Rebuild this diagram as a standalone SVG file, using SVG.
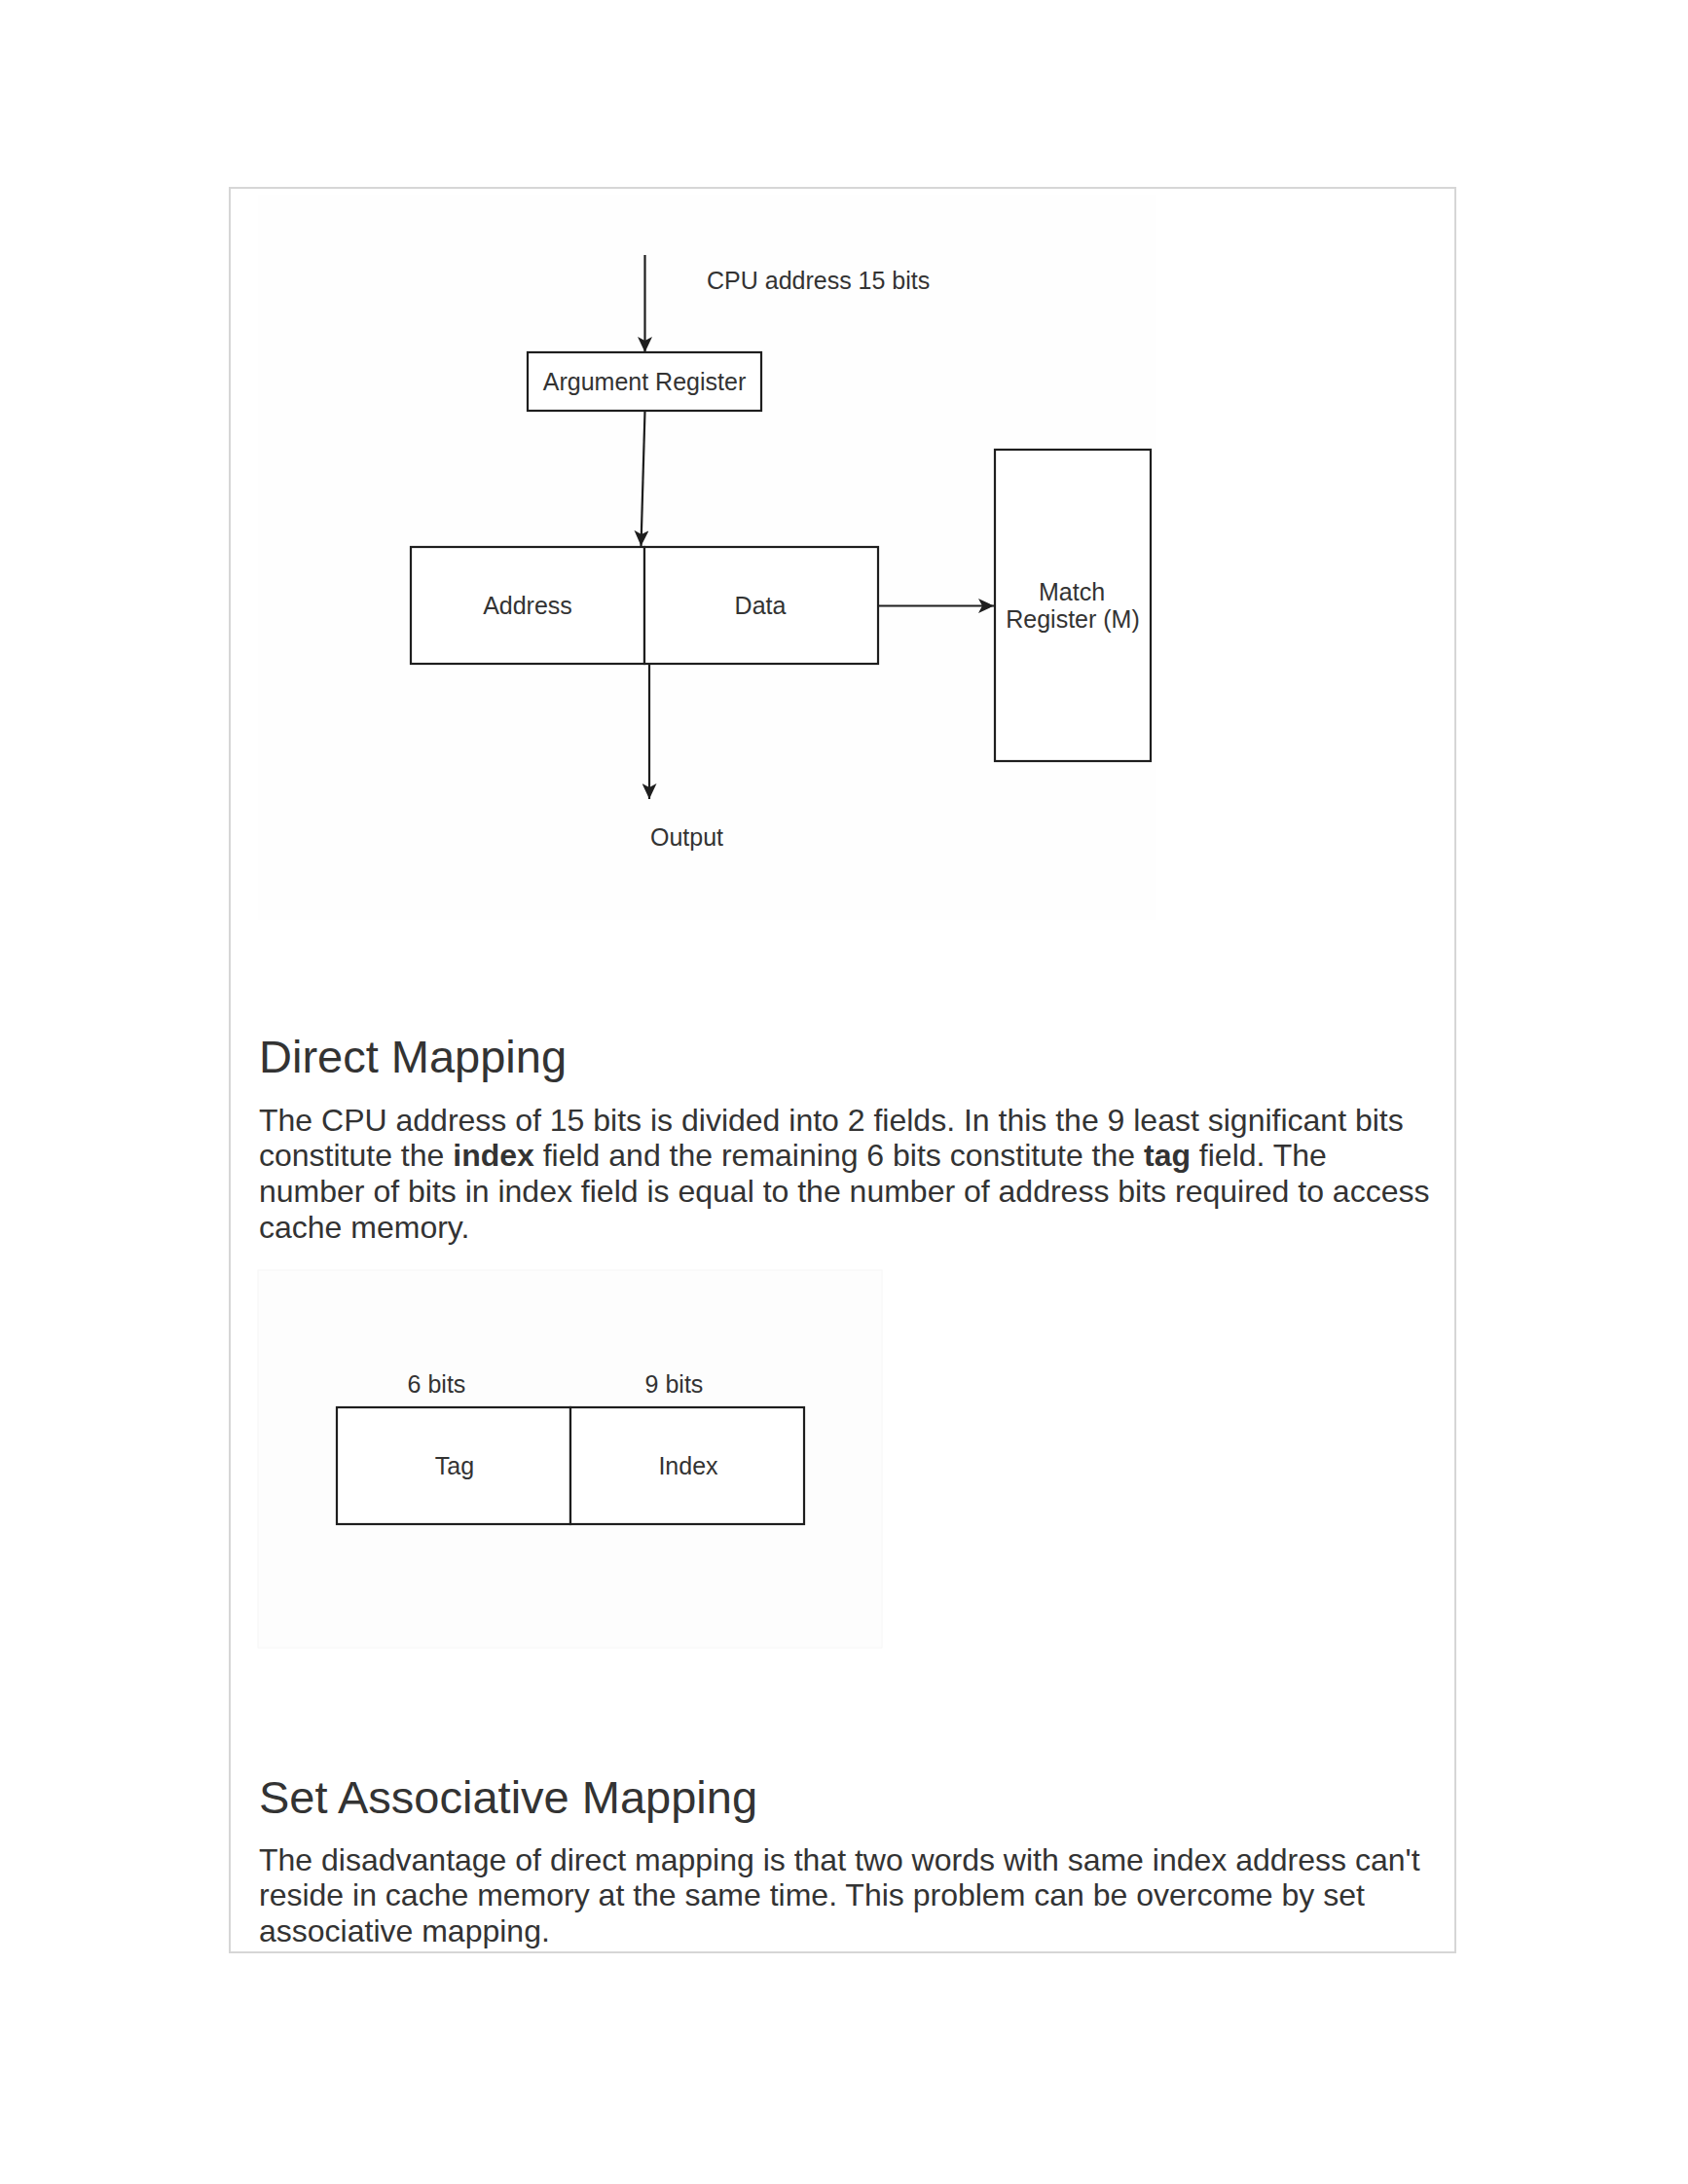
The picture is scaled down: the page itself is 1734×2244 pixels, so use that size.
<svg xmlns="http://www.w3.org/2000/svg" width="1734" height="2244" viewBox="0 0 1734 2244">
  <style>
    .box { fill: #ffffff; stroke: #1e1e1e; stroke-width: 2.2; }
    .lbl { font-family: "Liberation Sans", Arial, sans-serif; font-size: 25px; fill: #333333; }
    .mid { text-anchor: middle; }
    .h2 { font-family: "Liberation Sans", Arial, sans-serif; font-size: 47px; fill: #333333; }
    .p { font-family: "Liberation Sans", Arial, sans-serif; font-size: 32px; fill: #333333; }
    .b { font-weight: bold; }
    .conn { stroke: #1e1e1e; stroke-width: 2.2; fill: none; marker-end: url(#arrow); }
  </style>
  <defs>
    <marker id="arrow" markerUnits="userSpaceOnUse" markerWidth="17" markerHeight="15" refX="16" refY="7.5" orient="auto">
      <path d="M0,0 L16,7.5 L0,15 L4,7.5 z" fill="#1e1e1e"/>
    </marker>
  </defs>
  <rect x="0" y="0" width="1734" height="2244" fill="#ffffff"/>
  <rect id="frame" x="236" y="193" width="1259" height="1813" fill="#ffffff" stroke="#d6d6d6" stroke-width="2"/>
  <rect id="panel-top" x="265" y="200" width="923" height="745" fill="#fefefe"/>
  <rect id="panel-bottom" x="265" y="1305" width="641" height="388" fill="#fdfdfd" stroke="#f6f6f6" stroke-width="1"/>

  <g id="connectors">
    <line class="conn" x1="662.5" y1="262" x2="662.5" y2="362"/>
    <line class="conn" x1="662.5" y1="422" x2="658.5" y2="561"/>
    <line class="conn" x1="902" y1="622.5" x2="1021" y2="622.5"/>
    <line class="conn" x1="667" y1="682" x2="667" y2="821"/>
  </g>

  <g id="cpu-label">
    <text class="lbl" x="726" y="296.5">CPU address 15 bits</text>
  </g>
  <g id="argument-register">
    <rect class="box" x="542" y="362" width="240" height="60"/>
    <text class="lbl mid" x="662" y="401">Argument Register</text>
  </g>
  <g id="address-cell">
    <rect class="box" x="422" y="562" width="240" height="120"/>
    <text class="lbl mid" x="542" y="631">Address</text>
  </g>
  <g id="data-cell">
    <rect class="box" x="662" y="562" width="240" height="120"/>
    <text class="lbl mid" x="781" y="631">Data</text>
  </g>
  <g id="match-register">
    <rect class="box" x="1022" y="462" width="160" height="320"/>
    <text class="lbl mid" x="1101" y="616.5">Match</text>
    <text class="lbl mid" x="1102" y="645">Register (M)</text>
  </g>
  <g id="output-label">
    <text class="lbl" x="668" y="869">Output</text>
  </g>

  <g id="direct-mapping-text">
    <text class="h2" x="266" y="1102">Direct Mapping</text>
    <text class="p" x="266" y="1161.5">The CPU address of 15 bits is divided into 2 fields. In this the 9 least significant bits</text>
    <text class="p" x="266" y="1198">constitute the <tspan class="b">index</tspan> field and the remaining 6 bits constitute the <tspan class="b">tag</tspan> field. The</text>
    <text class="p" x="266" y="1235">number of bits in index field is equal to the number of address bits required to access</text>
    <text class="p" x="266" y="1272">cache memory.</text>
  </g>

  <g id="tag-label">
    <text class="lbl mid" x="448.5" y="1431">6 bits</text>
  </g>
  <g id="index-label">
    <text class="lbl mid" x="692.5" y="1431">9 bits</text>
  </g>
  <g id="tag-cell">
    <rect class="box" x="346" y="1446" width="240" height="120"/>
    <text class="lbl mid" x="467" y="1515">Tag</text>
  </g>
  <g id="index-cell">
    <rect class="box" x="586" y="1446" width="240" height="120"/>
    <text class="lbl mid" x="707" y="1515">Index</text>
  </g>

  <g id="set-associative-text">
    <text class="h2" x="266" y="1863">Set Associative Mapping</text>
    <text class="p" x="266" y="1921.5">The disadvantage of direct mapping is that two words with same index address can't</text>
    <text class="p" x="266" y="1958">reside in cache memory at the same time. This problem can be overcome by set</text>
    <text class="p" x="266" y="1995">associative mapping.</text>
  </g>
</svg>
